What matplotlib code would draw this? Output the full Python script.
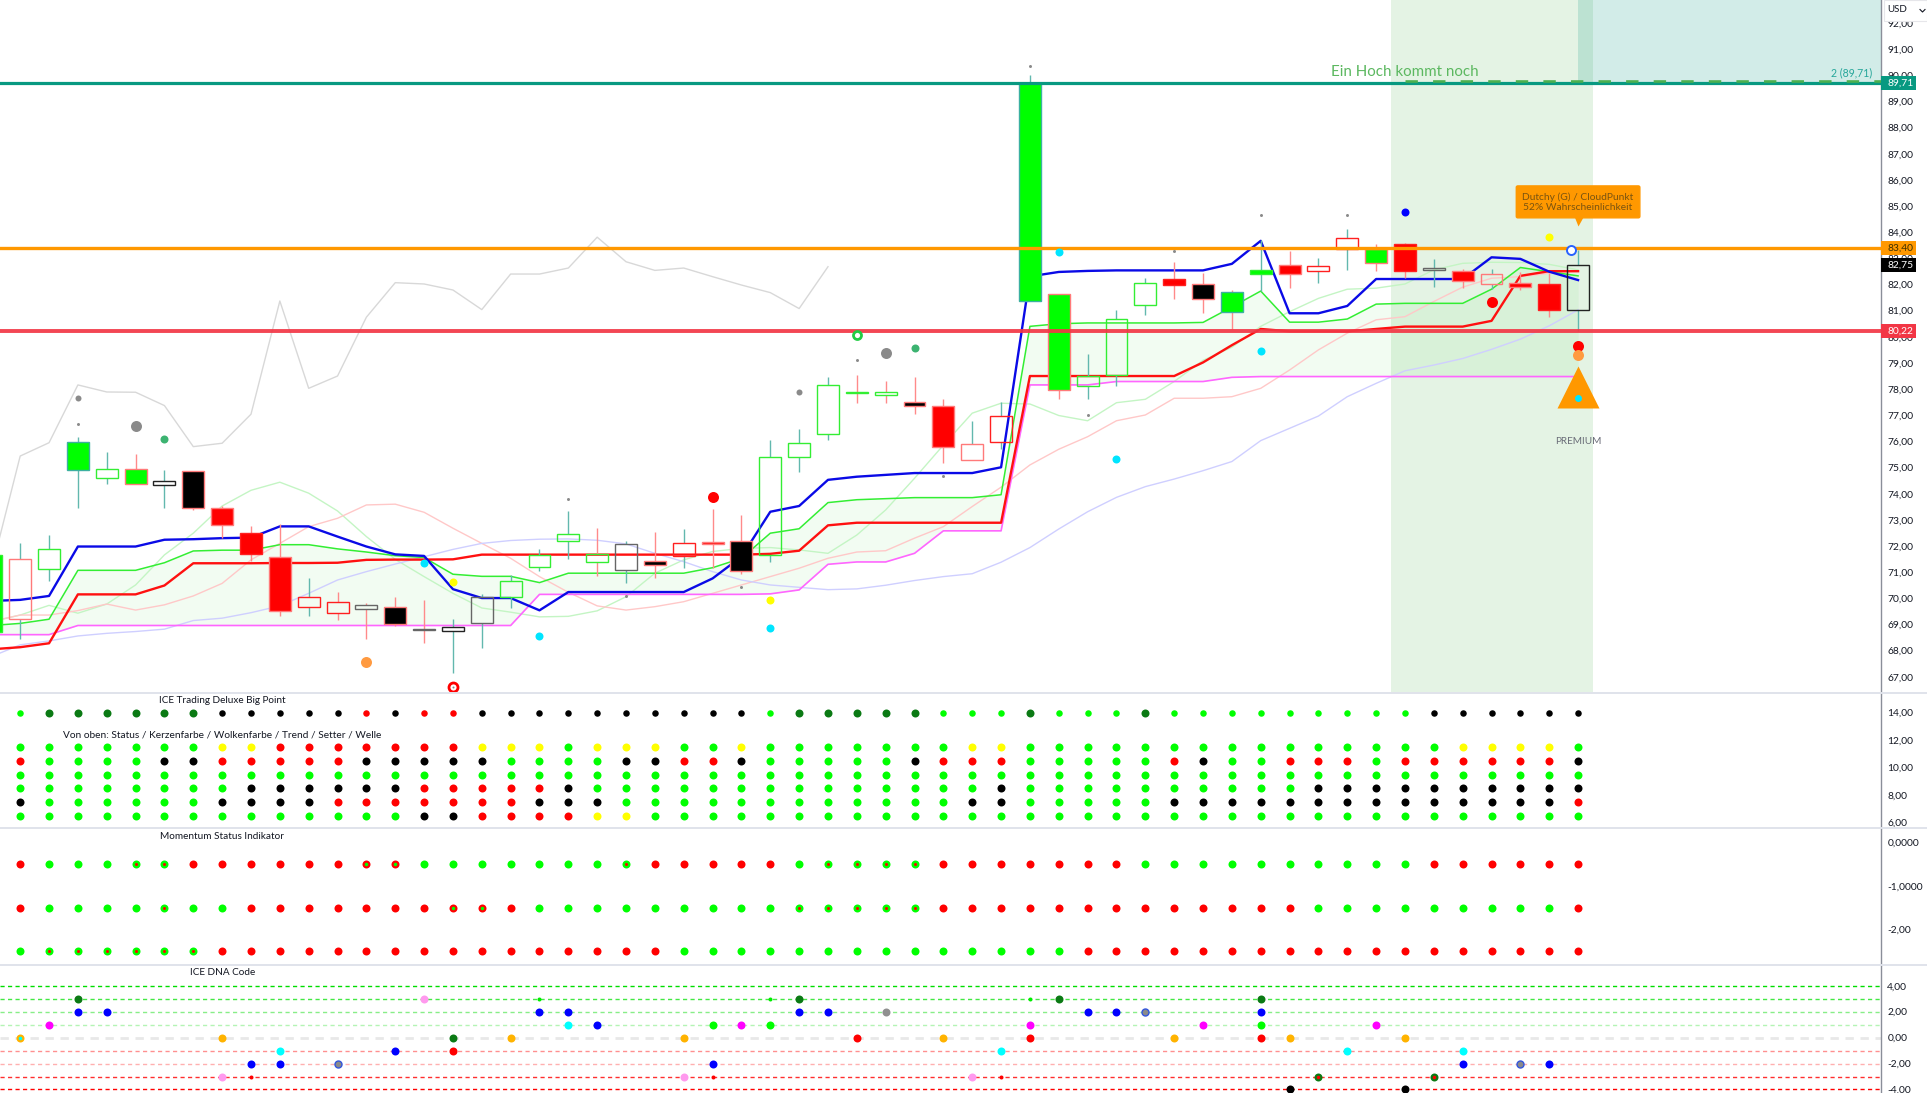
import matplotlib
matplotlib.use("Agg")
import matplotlib.pyplot as plt
from matplotlib.lines import Line2D
from matplotlib.patches import Rectangle
from matplotlib.ticker import FixedLocator, FuncFormatter

plt.rcParams["font.family"] = ["Lato", "DejaVu Sans"]

WIDTH, HEIGHT = 1927, 1093
AXIS_X = 1881

# --- candles, bar -1 is cut off by the left edge ---
bars = list(range(-1, 55))
body_top = [71.66, 71.50, 71.89, 75.97, 74.96, 74.96, 74.47, 74.88, 73.44, 72.49, 71.59, 70.04, 69.85, 69.76,
            69.68, 68.81, 68.92, 70.04, 70.65, 71.67, 72.45, 71.70, 72.08, 71.44, 72.13, 72.14, 72.21, 75.39,
            75.93, 78.15, 77.90, 77.88, 77.52, 77.37, 75.90, 76.96, 89.71, 81.64, 78.50, 80.67, 82.06, 82.20,
            82.02, 81.70, 82.54, 82.76, 82.70, 83.77, 83.34, 83.55, 82.62, 82.53, 82.40, 82.07, 82.02, 82.75]
body_bottom = [68.70, 69.20, 71.12, 74.91, 74.59, 74.37, 74.33, 73.46, 72.79, 71.70, 69.50, 69.66, 69.43, 69.58,
               69.02, 68.79, 68.74, 69.05, 70.04, 71.19, 72.18, 71.38, 71.08, 71.29, 71.61, 72.07, 71.03, 71.67,
               75.42, 76.27, 77.86, 77.78, 77.34, 75.78, 75.29, 75.99, 81.37, 77.98, 78.11, 78.54, 81.22, 82.00,
               81.45, 80.95, 82.41, 82.40, 82.51, 83.35, 82.81, 82.51, 82.57, 82.15, 82.01, 81.90, 81.03, 81.03]
high = [72.20, 72.10, 72.42, 76.18, 75.60, 75.52, 74.91, 74.88, 73.53, 72.77, 72.84, 70.77, 70.23, 69.81,
        70.04, 69.94, 69.20, 70.17, 70.88, 71.90, 73.34, 72.68, 72.18, 72.52, 72.65, 73.42, 73.20, 76.04,
        76.46, 78.47, 78.54, 78.31, 78.47, 77.61, 76.78, 77.50, 90.00, 81.64, 79.35, 81.03, 82.25, 82.86,
        82.44, 81.80, 83.70, 83.28, 83.02, 84.13, 83.55, 83.58, 82.97, 82.61, 82.61, 82.47, 82.43, 83.32]
low = [68.30, 68.43, 70.68, 73.44, 74.37, 74.37, 73.44, 73.38, 72.30, 71.43, 69.34, 69.34, 69.17, 68.45,
       68.94, 68.28, 67.16, 68.09, 69.63, 71.06, 71.49, 70.87, 70.60, 70.78, 71.14, 71.15, 70.93, 71.40,
       74.84, 76.06, 77.46, 77.46, 77.04, 75.19, 75.29, 75.71, 81.37, 77.64, 77.61, 78.13, 80.84, 81.45,
       80.90, 80.30, 81.75, 81.88, 82.05, 82.56, 82.52, 82.26, 81.92, 81.86, 81.82, 81.79, 80.77, 80.22]
candle_fill = ("g w w g w g w k r r r w w w k w w w w w w w w k w r k w w w w w k r w w g g w w w r k g g r w w g r "
               "w r w r r w").split()
candle_edge = ("g p g t g p k p p r p r r s p s k s g g g g s p r p p g g g g g p p p r t p g g g r p t g p r r p r "
               "s p p p r k").split()
candle_wick = ("t t t t t p t p p p p t p p p p t t t t t p t p t p p t t t p p p p t t t p t t t p p p t p t t p p "
               "t p t p p t").split()

# --- indicator lines ---
blue_line = [69.90, 69.94, 70.09, 71.98, 71.98, 71.98, 72.24, 72.26, 72.30, 72.32, 72.75, 72.75, 72.36, 71.98,
             71.68, 71.62, 70.35, 70.01, 70.01, 69.54, 70.24, 70.24, 70.24, 70.24, 70.24, 70.76, 71.59, 73.31,
             73.53, 74.53, 74.65, 74.72, 74.79, 74.79, 74.79, 75.01, 82.31, 82.48, 82.52, 82.54, 82.54, 82.54,
             82.54, 82.79, 83.67, 80.90, 80.90, 81.18, 82.21, 82.21, 82.21, 82.21, 83.04, 82.98, 82.49, 82.17]
green_line = [68.96, 69.04, 69.20, 71.07, 71.07, 71.07, 71.36, 71.81, 71.84, 71.84, 72.05, 72.05, 71.89, 71.77,
              71.63, 71.56, 70.92, 70.84, 70.84, 70.60, 70.96, 70.96, 70.96, 70.96, 70.96, 71.17, 71.53, 72.49,
              72.66, 73.66, 73.77, 73.81, 73.85, 73.85, 73.85, 73.96, 80.40, 80.50, 80.53, 80.53, 80.53, 80.53,
              80.55, 81.14, 81.75, 80.56, 80.56, 80.68, 81.25, 81.28, 81.28, 81.28, 81.82, 82.65, 82.49, 82.33]
red_line = [68.05, 68.13, 68.28, 70.15, 70.15, 70.15, 70.49, 71.34, 71.34, 71.34, 71.35, 71.35, 71.36, 71.47,
            71.48, 71.48, 71.49, 71.67, 71.67, 71.67, 71.67, 71.67, 71.67, 71.67, 71.67, 71.67, 71.67, 71.70,
            71.82, 72.79, 72.89, 72.89, 72.89, 72.89, 72.89, 72.89, 78.50, 78.50, 78.50, 78.50, 78.50, 78.50,
            79.02, 79.68, 80.30, 80.21, 80.21, 80.21, 80.30, 80.39, 80.39, 80.39, 80.61, 82.33, 82.51, 82.51]
magenta_line = [68.61, 68.61, 68.61, 68.96, 68.96, 68.96, 68.96, 68.96, 68.96, 68.96, 68.96, 68.96, 68.96, 68.96,
                68.96, 68.96, 68.96, 68.96, 68.96, 70.15, 70.15, 70.15, 70.15, 70.15, 70.15, 70.15, 70.15, 70.17,
                70.32, 71.30, 71.39, 71.39, 71.72, 72.58, 72.58, 72.58, 78.16, 78.16, 78.16, 78.29, 78.29, 78.29,
                78.29, 78.45, 78.48, 78.48, 78.48, 78.48, 78.48, 78.48, 78.48, 78.48, 78.48, 78.48, 78.48, 78.48]
pale_green = [69.11, 69.36, 69.73, 69.43, 69.78, 70.51, 71.66, 72.49, 73.53, 74.13, 74.44, 74.02, 73.34, 72.36,
              71.49, 70.83, 70.19, 69.63, 69.47, 69.29, 69.31, 69.52, 70.06, 70.96, 71.47, 71.79, 71.91, 71.94,
              71.85, 71.72, 72.42, 73.38, 74.59, 75.86, 77.08, 77.46, 77.43, 76.99, 76.79, 77.48, 77.61, 78.29,
              79.10, 79.60, 80.40, 80.96, 81.47, 81.82, 81.86, 82.02, 82.56, 82.81, 82.85, 82.84, 82.77, 82.56]
pale_red = [69.11, 69.36, 69.36, 69.53, 69.78, 69.55, 69.75, 70.09, 70.57, 71.47, 72.10, 72.74, 73.06, 73.57,
            73.60, 73.29, 72.68, 72.10, 71.53, 70.83, 70.23, 69.71, 69.55, 69.68, 69.87, 70.19, 70.51, 70.83,
            71.15, 71.53, 71.77, 71.82, 72.30, 72.74, 73.51, 74.25, 75.10, 75.70, 76.18, 76.79, 77.01, 77.65,
            77.65, 77.71, 78.03, 78.73, 79.50, 80.14, 80.65, 80.77, 81.35, 81.90, 82.24, 82.30, 82.43, 82.49]
pale_blue = [67.77, 68.22, 68.37, 68.56, 68.66, 68.73, 68.82, 69.15, 69.24, 69.45, 69.71, 70.19, 70.70, 71.02,
             71.31, 71.59, 71.87, 72.10, 72.21, 72.26, 72.27, 72.22, 72.08, 71.72, 71.40, 71.02, 70.70, 70.51,
             70.42, 70.33, 70.36, 70.50, 70.68, 70.83, 70.94, 71.38, 71.94, 72.65, 73.31, 73.86, 74.27, 74.56,
             74.88, 75.23, 76.03, 76.50, 76.97, 77.71, 78.22, 78.70, 78.92, 79.17, 79.52, 79.91, 80.42, 81.03]
# grey line stops at bar 28
pale_grey = [71.08, 75.44, 75.95, 78.16, 77.89, 77.88, 77.37, 75.80, 75.93, 77.04, 81.37, 78.03, 78.50, 80.75,
             82.07, 82.02, 81.79, 81.04, 82.40, 82.40, 82.63, 83.81, 82.87, 82.54, 82.63, 82.30, 81.98, 81.69,
             81.08, 82.68]

# --- price levels ---
level_prices = [89.71, 83.40, 80.22]
level_labels = ["89,71", "83,40", "80,22"]

# --- signal dots on the price pane ---
signal_bars = [2, 2, 4, 5, 14, 15, 12, 15, 18, 19, 21, 24, 25, 26, 26, 27, 32, 37, 38, 30, 29, 31, 29,
               35, 36, 40, 43, 43, 46, 48, 53, 51, 54, 54]
signal_prices = [77.66, 76.67, 76.57, 76.08, 71.36, 70.61, 67.58, 66.62, 68.57, 73.80, 70.09, 73.89, 70.45,
                 69.94, 68.85, 77.88, 74.69, 77.02, 75.33, 79.39, 80.05, 79.58, 79.10, 90.34, 83.24, 83.30,
                 79.44, 84.66, 84.66, 84.76, 83.81, 81.32, 79.66, 79.31]
signal_kinds = ["grey", "tiny", "greybig", "sea", "cyan", "yellow", "orange", "ring", "cyan", "tiny", "tiny",
                "red", "tiny", "yellow", "cyan", "grey", "tiny", "tiny", "cyan", "greybig", "limering", "sea",
                "tiny", "tiny", "cyan", "tiny", "cyan", "tiny", "tiny", "blue", "yellow", "red", "red",
                "orange"]

# --- ICE Trading Deluxe rows, one letter per bar 0..54 ---
big_point = "gddddddkkkkkrkrrkkkkkkkkkkgdddddg" + "ggdgggdgggggggggkkkkkk"
status_rows = [
    "gggggggyyrrrrrrryyygyyyggyggggggg" + "yygggggggggggggggyyyyg",
    "rggggkkrrrrrkkkkkggggkkrrkgggggkr" + "rrgggggrkggrrrgrrrrrrk",
    "ggggggggggggggggggggggggggggggggg" + "gggggggggggggggggggggg",
    "ggggggggkkkkkkrrrrrkggggggggggggg" + "gkggggggggggkkkkkkkkkk",
    "kggggggkkkkrrrrrrrkkkgggggggggggg" + "kkgggggkkkkkkkkkkkkkkr",
    "ggggggggggggggkkrrrryyggggggggggg" + "gggggggggggggggggggggg",
]
status_levels = [11.5, 10.5, 9.5, 8.5, 7.5, 6.5]

# --- Momentum rows, a = green with red core, b = red with green core ---
momentum_rows = [
    "rgggaarrrrrrbbgggggggarrrrrgaaaar" + "rrrrrrggggggggggrrrrrr",
    "rggggaggrrrrrrrbbrgggggggggaaaaar" + "rrrrrrrrrrrrgggggggggr",
    "gaaaaaarrrrrrrrrrrrrrrrgggggggggg" + "ggggrrrrrrrrrrrrrrrrrr",
]
momentum_levels = [-0.5, -1.5, -2.5]

# --- DNA code dots ---
dna_levels = [4, 3, 2, 1, 0, -1, -2, -3, -4]
dna_bars = [2, 14, 18, 26, 27, 35, 36, 43,
            2, 3, 18, 19, 27, 28, 30, 37, 38, 39, 43,
            1, 19, 20, 24, 25, 26, 35, 41, 43, 47,
            0, 7, 15, 17, 23, 29, 32, 35, 40, 43, 44, 48,
            9, 13, 15, 34, 46, 50,
            8, 9, 11, 24, 50, 52, 53,
            7, 8, 23, 24, 33, 34, 45, 49,
            44, 48]
dna_values = [3, 3, 3, 3, 3, 3, 3, 3,
              2, 2, 2, 2, 2, 2, 2, 2, 2, 2, 2,
              1, 1, 1, 1, 1, 1, 1, 1, 1, 1,
              0, 0, 0, 0, 0, 0, 0, 0, 0, 0, 0, 0,
              -1, -1, -1, -1, -1, -1,
              -2, -2, -2, -2, -2, -2, -2,
              -3, -3, -3, -3, -3, -3, -3, -3,
              -4, -4]
dna_kinds = ["dark", "pink", "tinyg", "tinyg", "dark", "tinyg", "dark", "dark",
             "blue", "blue", "blue", "blue", "blue", "blue", "grey", "blue", "blue", "ring", "blue",
             "mag", "cyan", "blue", "lime", "mag", "lime", "mag", "mag", "lime", "mag",
             "ambercyan", "amber", "dark", "amber", "amber", "red", "amber", "red", "amber", "red", "amber", "amber",
             "cyan", "blue", "red", "cyan", "cyan", "cyan",
             "blue", "blue", "ring", "blue", "blue", "ring", "blue",
             "pink", "tinyr", "pink", "tinyr", "pink", "tinyr", "darkred", "darkred",
             "black", "black"]

# colours and sizes (pixels)
COL = {"g": "#00ff00", "r": "#ff0000", "k": "#000000", "w": "none", "y": "#ffff00", "d": "#0b7a14"}
EDGE = {"g": "#33ee33", "p": "#ff7a7a", "r": "#ff2020", "k": "#222222", "s": "#666666", "t": "#3cb0a0"}
WICK = {"t": "#62b8ae", "p": "#ff8a8a"}
SIGNAL = {"grey": ("#8a8a8a", 6), "tiny": ("#8a8a8a", 3), "greybig": ("#8a8a8a", 11), "sea": ("#3cb371", 8),
          "cyan": ("#00e5ff", 8), "yellow": ("#ffff00", 8), "orange": ("#ff9a40", 11), "red": ("#ff0000", 11),
          "blue": ("#0000ff", 8)}
DNA = {"dark": "#0b7a14", "pink": "#ff99ee", "blue": "#0000ff", "grey": "#909090", "mag": "#ff00ff",
       "cyan": "#00ffff", "lime": "#00ff00", "amber": "#ffb300", "red": "#ff0000", "black": "#000000"}

LEFT_BAR, RIGHT_BAR = -0.70, 64.50
TEXT = "#131722"
fmt2 = FuncFormatter(lambda v, _: f"{v:.2f}".replace(".", ","))


def px(d):
    # pixel diameter -> points at dpi 100
    return d * 0.72


def pane(top, bottom, ylim, ticks, formatter=fmt2):
    ax = fig.add_axes([0, 1 - bottom / HEIGHT, AXIS_X / WIDTH, (bottom - top) / HEIGHT])
    ax.set_xlim(LEFT_BAR, RIGHT_BAR)
    ax.set_ylim(*ylim)
    ax.yaxis.tick_right()
    ax.yaxis.set_major_locator(FixedLocator(ticks))
    ax.yaxis.set_major_formatter(formatter)
    ax.tick_params(axis="y", length=0, pad=4.5, labelsize=7.4, labelcolor=TEXT)
    ax.set_xticks([])
    for name in ("top", "left", "bottom"):
        ax.spines[name].set_visible(False)
    ax.spines["right"].set_color("#8a8e99")
    ax.spines["right"].set_linewidth(1)
    return ax


def dot_row(ax, level, codes, d=8, dark_d=8):
    for i, c in enumerate(codes):
        if c == "a":
            ax.plot(i, level, "o", ms=px(d), mfc=COL["g"], mec="none")
            ax.plot(i, level, "o", ms=px(3), mfc=COL["r"], mec="none")
        elif c == "b":
            ax.plot(i, level, "o", ms=px(d), mfc=COL["r"], mec="none")
            ax.plot(i, level, "o", ms=px(3.5), mfc=COL["g"], mec="none")
        else:
            ax.plot(i, level, "o", ms=px(dark_d if c == "d" else d), mfc=COL[c], mec="none")


fig = plt.figure(figsize=(WIDTH / 100, HEIGHT / 100), dpi=100)

# ---------- price pane ----------
ax = pane(0, 692.7, (66.39, 92.88), list(range(67, 93)))
ax.axvspan(47.5, 54.5, color="#4caf50", alpha=0.15, lw=0, zorder=0.5)
ax.add_patch(Rectangle((54, 89.71), RIGHT_BAR - 54, 92.88 - 89.71, color="#089981", alpha=0.18, lw=0, zorder=0.6))

ax.fill_between(bars, green_line, magenta_line, color="#00d000", alpha=0.05, lw=0, zorder=1)
ax.plot(bars[:len(pale_grey)], pale_grey, color="#d8d8d8", lw=1.0, zorder=1.2)
ax.plot(bars, pale_green, color="#c4f5c4", lw=1.0, zorder=1.2)
ax.plot(bars, pale_red, color="#ffc8c8", lw=1.0, zorder=1.2)
ax.plot(bars, pale_blue, color="#cfcfff", lw=1.0, zorder=1.2)
ax.plot(bars, magenta_line, color="#ff66ff", lw=1.2, zorder=1.4)
ax.plot(bars, green_line, color="#33ee33", lw=1.1, zorder=1.4)
ax.plot(bars, red_line, color="#ff1010", lw=1.7, zorder=1.5)
ax.plot(bars, blue_line, color="#0a0ae6", lw=1.7, zorder=1.5)

for b, top, bot, hi, lo, f, e, w in zip(bars, body_top, body_bottom, high, low, candle_fill, candle_edge, candle_wick):
    ax.vlines(b, top, hi, color=WICK[w], lw=1.0, zorder=2)
    ax.vlines(b, lo, bot, color=WICK[w], lw=1.0, zorder=2)
    ax.bar(b, top - bot, bottom=bot, width=0.76, facecolor=COL[f], edgecolor=EDGE[e], lw=1.0, zorder=2.2)

# level lines
ax.axhline(level_prices[0], color="#089981", lw=2.3, zorder=3)
ax.axhline(level_prices[1], color="#ff9800", lw=2.4, zorder=3)
ax.axhline(level_prices[2], color="#f23645", lw=2.8, alpha=0.92, zorder=3)
ax.plot([48, RIGHT_BAR], [89.79, 89.79], color="#4caf50", lw=1.9, dashes=(4.7, 5.75), zorder=3.1)

for b, p, k in zip(signal_bars, signal_prices, signal_kinds):
    if k == "ring":
        ax.plot(b, p, "o", ms=px(9), mfc="white", mec="#ff0000", mew=2, zorder=4, clip_on=False)
        ax.plot(b, p, "o", ms=px(2), mfc="#888888", mec="none", zorder=4.1, clip_on=False)
    elif k == "limering":
        ax.plot(b, p, "o", ms=px(8), mfc="white", mec="#22cc44", mew=2, zorder=4)
    else:
        c, d = SIGNAL[k]
        ax.plot(b, p, "o", ms=px(d), mfc=c, mec="none", zorder=4)

# premium triangle with the cyan dot on it, and the handle on the orange line
ax.plot(54, 78.08, "^", ms=px(43), mfc="#ff9800", mec="none", zorder=4)
ax.plot(54, 77.66, "o", ms=px(7), mfc="#00e5ff", mec="none", zorder=4.2)
ax.plot(53.75, 83.32, "o", ms=px(9), mfc="white", mec="#2962ff", mew=1.4, zorder=4.2)
ax.text(54, 75.99, "PREMIUM", ha="center", va="center", fontsize=7.2, color="#6a6d78", zorder=5)

# orange callout
ax.text(54, 85.16, "Dutchy (G) / CloudPunkt\n52% Wahrscheinlichkeit", ha="center", va="center",
        fontsize=7.4, color="#7a5410", linespacing=1.15, zorder=6,
        bbox=dict(boxstyle="round,pad=0.6,rounding_size=0.15", fc="#ff9800", ec="#ff9800"))
ax.plot(54, 84.42, "v", ms=px(9), mfc="#ff9800", mec="none", zorder=6)

ax.text(48, 90.11, "Ein Hoch kommt noch", ha="center", va="center", fontsize=10.9, color="#5cb860", zorder=5)
ax.text(64.2, 90.11, "2 (89,71)", ha="right", va="center", fontsize=7.6, color="#26a69a", zorder=5)

# price tags on the axis
tags = [(level_prices[0], level_labels[0], "#089981", "white"),
        (level_prices[1], level_labels[1], "#ff9800", "#3d3000"),
        (82.75, "82,75", "#000000", "white"),
        (level_prices[2], level_labels[2], "#f23645", "white")]
trans = ax.get_yaxis_transform()
for p, label, bg, fg in tags:
    ax.add_patch(Rectangle((1, p - 0.26), 35 / AXIS_X, 0.52, transform=trans, fc=bg, ec="none",
                           clip_on=False, zorder=5))
    ax.text(1 + 6.5 / AXIS_X, p, label, transform=trans, va="center", ha="left", fontsize=7.4, color=fg,
            clip_on=False, zorder=6)

# ---------- Big Point / status pane ----------
ax2 = pane(692.7, 828.3, (5.59, 15.45), [14, 12, 10, 8, 6])
dot_row(ax2, 14, big_point, d=6.5)
for level, codes in zip(status_levels, status_rows):
    dot_row(ax2, level, codes)
ax2.text(7, 14.87, "ICE Trading Deluxe Big Point", ha="center", va="center", fontsize=7.2, color=TEXT)
ax2.text(7, 12.40, "Von oben: Status / Kerzenfarbe / Wolkenfarbe / Trend / Setter / Welle", ha="center",
         va="center", fontsize=7.3, color=TEXT)

# ---------- Momentum pane ----------
labels3 = {0: "0,0000", -1: "-1,0000", -2: "-2,00"}
ax3 = pane(828.3, 964.7, (-2.814, 0.322), [0, -1, -2], FuncFormatter(lambda v, _: labels3[int(v)]))
for level, codes in zip(momentum_levels, momentum_rows):
    dot_row(ax3, level, codes)
ax3.text(7, 0.13, "Momentum Status Indikator", ha="center", va="center", fontsize=7.2, color=TEXT)

# ---------- DNA pane ----------
ax4 = pane(964.7, HEIGHT, (-4.27, 5.62), [4, 2, 0, -2, -4])
dna_line_colors = ["#00dd00", "#44e844", "#88ee88", "#b4f4b4", "#e8e8e8", "#ff9090", "#ffb0b0", "#ff3030", "#ff0000"]
for level, c in zip(dna_levels, dna_line_colors):
    ax4.axhline(level, color=c, lw=2 if level == 0 else 1, dashes=(3, 2.4), zorder=1)
for b, v, k in zip(dna_bars, dna_values, dna_kinds):
    if k == "tinyg":
        ax4.plot(b, v, "o", ms=px(4), mfc="#00ee00", mec="none", zorder=3)
    elif k == "tinyr":
        ax4.plot(b, v, "o", ms=px(4), mfc="#ff0000", mec="none", zorder=3)
    elif k == "ring":
        ax4.plot(b, v, "o", ms=px(7), mfc="#8a8a8a", mec="#3355dd", mew=1, zorder=3)
    elif k == "ambercyan":
        ax4.plot(b, v, "o", ms=px(8), mfc=DNA["amber"], mec="none", zorder=3)
        ax4.plot(b, v, "o", ms=px(3.5), mfc=DNA["cyan"], mec="none", zorder=3.1)
    elif k == "darkred":
        ax4.plot(b, v, "o", ms=px(8), mfc=DNA["dark"], mec="none", zorder=3)
        ax4.plot(b, v, "o", ms=px(3.5), mfc=DNA["red"], mec="none", zorder=3.1)
    else:
        ax4.plot(b, v, "o", ms=px(8), mfc=DNA[k], mec="none", zorder=3)
ax4.text(7, 5.0, "ICE DNA Code", ha="center", va="center", fontsize=7.2, color=TEXT)

# pane separators run across the price scale too
for y in (692.7, 828.3, 964.7):
    fig.add_artist(Line2D([0, 1], [1 - y / HEIGHT] * 2, color="#e0e3eb", lw=1.4, zorder=5))

# USD button
fig.add_artist(Rectangle((1884 / WIDTH, 1 - 21 / HEIGHT), 43 / WIDTH, 21 / HEIGHT, fc="white", ec="#e6e6ea", lw=0.8,
                         transform=fig.transFigure, zorder=6))
fig.text(1887 / WIDTH, 1 - 10 / HEIGHT, "USD", fontsize=7, color=TEXT, va="center", ha="left", zorder=7)
fig.add_artist(Line2D([1920 / WIDTH, 1922.5 / WIDTH, 1925 / WIDTH],
                      [1 - 9.5 / HEIGHT, 1 - 12 / HEIGHT, 1 - 9.5 / HEIGHT],
                      color=TEXT, lw=0.8, zorder=7))

fig.savefig("out.png", dpi=100)
